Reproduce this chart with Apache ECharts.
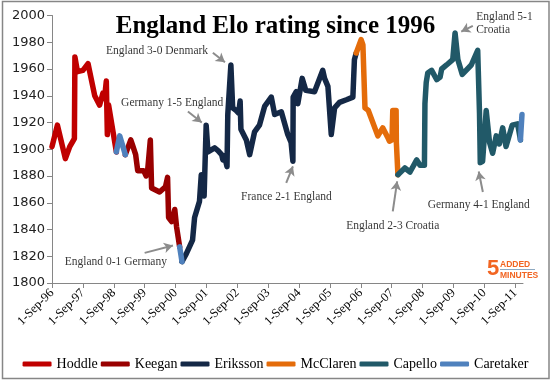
<!DOCTYPE html>
<html><head><meta charset="utf-8">
<script src="https://cdn.jsdelivr.net/npm/echarts@6/dist/echarts.min.js"></script>
<style>html,body{margin:0;padding:0;background:#fff}#c{width:551px;height:381px}</style>
</head><body><div id="c"></div>
<script>
// x = months since 1-Sep-1996
const tickMonths = [0,12,24,36,48,60,72,84,96,108,120,132,144,156,168,180];
const tickLabels = ['1-Sep-96','1-Sep-97','1-Sep-98','1-Sep-99','1-Sep-00','1-Sep-01','1-Sep-02','1-Sep-03','1-Sep-04','1-Sep-05','1-Sep-06','1-Sep-07','1-Sep-08','1-Sep-09','1-Sep-10','1-Sep-11'];

const hoddle = [[0,1902],[2.1,1918],[5.2,1893],[6.9,1902],[8.7,1908],[8.9,1969],[9.9,1958],[12,1959],[14,1964],[16.6,1940],[18.5,1933],[19.8,1942],[20.4,1938],[21.1,1951],[21.5,1911],[22.0,1933],[25,1898]];
const caretaker1 = [[25,1898],[26.3,1910],[28.5,1896]];
const keegan = [[28.5,1896],[30.6,1907],[31.3,1903],[32.5,1896],[33.3,1884],[35.6,1884],[36.6,1880],[37.2,1885],[38.2,1907],[38.7,1871],[41.8,1868],[44.1,1872],[44.9,1879],[45.3,1849],[46.5,1846],[47.7,1855],[48.4,1842],[49.6,1827]];
const caretaker2 = [[49.6,1827],[50.5,1816]];
const eriksson = [[50.5,1816],[52.2,1822],[54.6,1832],[55.4,1849],[57.3,1861],[58.0,1881],[59.1,1865],[59.9,1918],[60.6,1898],[63.2,1901],[64.5,1899],[65.9,1896],[66.4,1892],[67.0,1895],[68.0,1887],[68.3,1926],[69.5,1963],[70.2,1931],[71.5,1929],[72.5,1927],[73.1,1936],[73.4,1915],[75.5,1907],[76.8,1896],[77.5,1895],[78.7,1913],[80.6,1918],[82.6,1932],[85.2,1939],[86.5,1926],[89.1,1928],[91.6,1911],[92.9,1905],[93.6,1891],[93.7,1939],[94.9,1943],[95.5,1934],[97.2,1953],[98.6,1944],[102.0,1943],[105.2,1959],[105.9,1953],[107.2,1947],[108.5,1911],[109.8,1931],[111.7,1935],[114.4,1937],[116.9,1939],[117.5,1967],[118.2,1972]];
const mcclaren = [[118.2,1972],[120.1,1982],[120.8,1978],[121.6,1931],[122.9,1929],[126.6,1910],[128.5,1916],[129.6,1912],[130.4,1909],[131.1,1906],[132.1,1907],[132.4,1929],[133.7,1929],[133.8,1905],[134.4,1881]];
const capello = [[134.4,1881],[137.1,1886],[139.1,1883],[141.7,1892],[143.0,1888],[144.7,1888],[144.9,1934],[145.4,1950],[146.0,1957],[147.5,1959],[149.5,1952],[150.8,1954],[151.4,1960],[153.3,1963],[155.7,1967],[156.6,1987],[157.7,1967],[159.4,1956],[162.9,1963],[165.4,1974],[166.1,1927],[166.4,1890],[167.3,1891],[168.7,1929],[170.0,1905],[171.2,1897],[172.6,1910],[173.8,1904],[175.1,1916],[176.4,1902],[178.8,1918],[180.9,1919],[182.0,1907]];
const caretaker3 = [[182.0,1907],[182.6,1926]];

const noteTexts = ['England 0-1 Germany','Germany 1-5 England','England 3-0 Denmark','France 2-1 England','England 2-3 Croatia','Germany 4-1 England','England 5-1\nCroatia'];
const notePos = [[24.8,1816],[46.7,1934.5],[40.8,1973.7],[91.1,1864.3],[132.4,1842.4],[165.8,1858],[164.8,1993.7]];
const arrows = [[[36.0,1822.5],[47.0,1828]],[[52.8,1928.2],[58.2,1920]],[[62.5,1972.2],[67.2,1965]],[[91.0,1874.8],[93.6,1887.2]],[[132.4,1853.6],[134.1,1876]],[[167.4,1868],[165.8,1883.4]],[[163.5,1992.2],[159.0,1988]]];

const serif = 'Liberation Serif';
const colors = {Hoddle:'#C00000',Keegan:'#990000',Eriksson:'#142846',McClaren:'#E46C0A',Capello:'#215968',Caretaker:'#4F81BD'};

function line(name, data){
  return {name, type:'line', data, showSymbol:false, symbol:'none', color:colors[name],
    lineStyle:{width:5.5, color:colors[name], cap:'round', join:'round'}, silent:true};
}

const chart = echarts.init(document.getElementById('c'), null, {renderer:'canvas'});
chart.setOption({
  animation:false,
  backgroundColor:'#fff',
  title:{text:'England Elo rating since 1996', left:'center', top:9,
    textStyle:{fontFamily:serif, fontWeight:'bold', fontSize:25, color:'#000'}},
  grid:{left:52, right:28, top:15.5, bottom:98},
  legend:{data:['Hoddle','Keegan','Eriksson','McClaren','Capello','Caretaker'], left:'center', top:352,
    icon:'roundRect', itemWidth:29, itemHeight:5, itemGap:3,
    textStyle:{fontFamily:serif, fontSize:14, color:'#000'}},
  xAxis:{type:'value', min:0, max:183,
    axisLine:{lineStyle:{color:'#868686', width:1}},
    axisTick:{customValues:tickMonths, length:5, lineStyle:{color:'#868686'}},
    axisLabel:{customValues:tickMonths, rotate:45, margin:8, fontFamily:serif, fontSize:12.5, color:'#000',
      formatter:v=>tickLabels[Math.round(v/12)]},
    splitLine:{show:false}},
  yAxis:{type:'value', min:1800, max:2000, interval:20,
    axisLine:{show:true, lineStyle:{color:'#868686', width:1}},
    axisTick:{show:true, length:5, lineStyle:{color:'#868686'}},
    axisLabel:{fontFamily:'DejaVu Sans', fontSize:13, color:'#222', margin:7, formatter:v=>String(v)},
    splitLine:{show:false}},
  series:[
    line('Hoddle', hoddle),
    line('Keegan', keegan),
    line('Eriksson', eriksson),
    line('McClaren', mcclaren),
    line('Capello', capello),
    line('Caretaker', caretaker1),
    line('Caretaker', caretaker2),
    line('Caretaker', caretaker3),
    {name:'notes', type:'scatter', symbolSize:1, itemStyle:{color:'rgba(0,0,0,0)'}, silent:true,
      data: noteTexts.map((t,i)=>({name:t, value:notePos[i],
        label:{show:true, position:'inside', formatter:'{b}', fontFamily:serif, fontSize:11.5, color:'#000',
          align: i===6 ? 'left' : 'center', lineHeight:13}})),
      markLine:{silent:true, symbol:['none','arrow'], symbolSize:[8,9], animation:false,
        lineStyle:{color:'#8C8C8C', width:2, type:'solid'}, label:{show:false},
        data: arrows.map(a=>[{coord:a[0]},{coord:a[1]}])}}
  ],
  graphic:[
    {type:'rect', shape:{x:2.5, y:1.5, width:546.5, height:377}, style:{fill:'none', stroke:'#868686', lineWidth:1.5}, silent:true},
    {type:'text', left:487, top:258, style:{text:'5', font:'bold 22px "Liberation Sans"', fill:'#F26522'}},
    {type:'text', left:500, top:260, style:{text:'ADDED', font:'bold 8.5px "Liberation Sans"', fill:'#F26522'}},
    {type:'line', shape:{x1:500, y1:269.5, x2:535, y2:269.5}, style:{stroke:'#8EA9C1', lineWidth:1}},
    {type:'text', left:500, top:271, style:{text:'MINUTES', font:'bold 8.5px "Liberation Sans"', fill:'#F26522'}}
  ]
});
</script>
</body></html>
